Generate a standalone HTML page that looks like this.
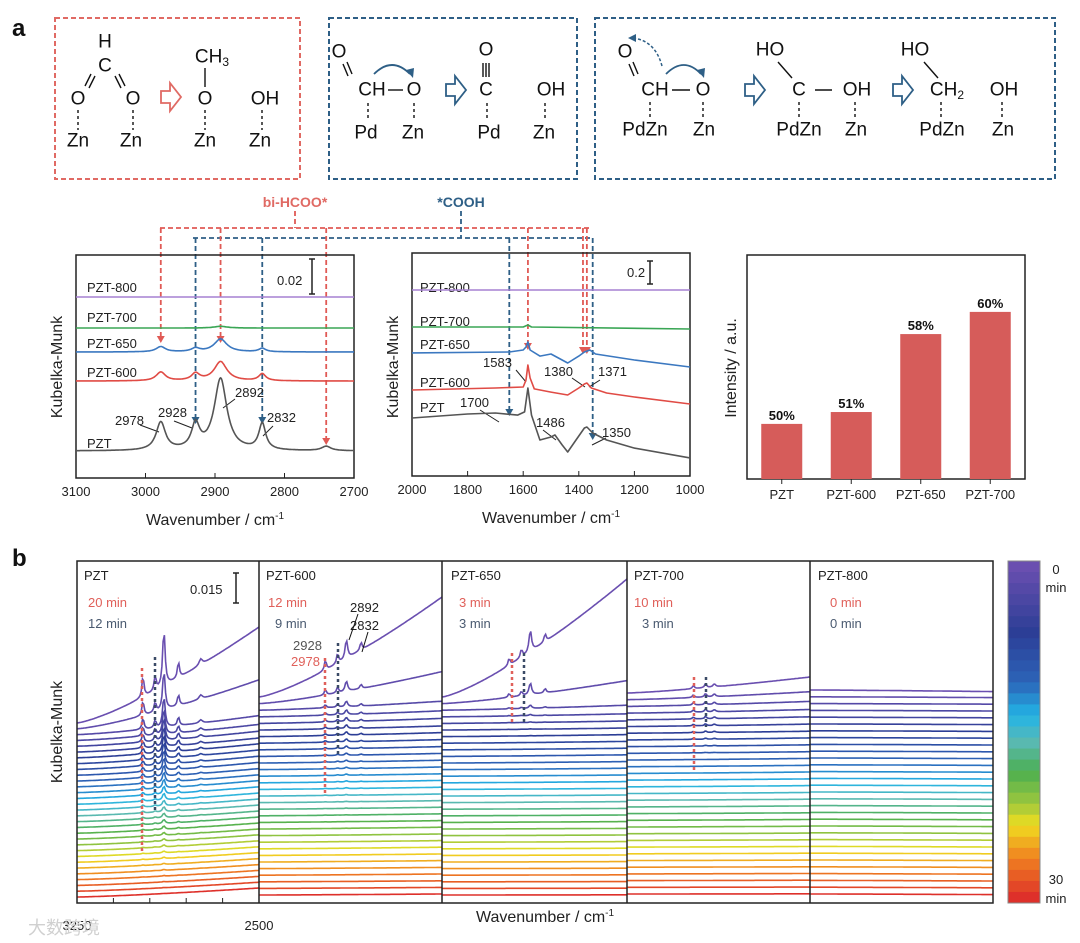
<!DOCTYPE html>
<html><head><meta charset="utf-8">
<style>
html,body{margin:0;padding:0;background:#fff;}
svg{display:block;font-family:"Liberation Sans",sans-serif;}
.chem{font-family:"Liberation Sans Narrow","Liberation Sans",sans-serif;font-size:19px;fill:#111;}
.lbl{font-size:13px;fill:#222;}
.tick{font-size:13px;fill:#222;}
.axt{font-size:16px;fill:#222;}
</style></head>
<body>
<svg id="fig" width="1080" height="943" viewBox="0 0 1080 943" xmlns="http://www.w3.org/2000/svg">
<text x="12" y="36" font-size="24" font-weight="bold" fill="#111">a</text>
<text x="12" y="566" font-size="24" font-weight="bold" fill="#111">b</text>

<g>
<rect x="55" y="18" width="245" height="161" fill="none" stroke="#e06a64" stroke-width="2" stroke-dasharray="5,3"/>
<g class="chem" text-anchor="middle" dominant-baseline="central">
<text x="105" y="42">H</text><text x="105" y="66">C</text>
<text x="78" y="99">O</text><text x="133" y="99">O</text>
<text x="78" y="141">Zn</text><text x="131" y="141">Zn</text>
<text x="212" y="57">CH<tspan font-size="12" dy="5">3</tspan></text>
<text x="205" y="99">O</text><text x="265" y="99">OH</text>
<text x="205" y="141">Zn</text><text x="260" y="141">Zn</text>
</g>
<g stroke="#111" stroke-width="1.4" fill="none">
<line x1="91" y1="74" x2="85" y2="86"/><line x1="95" y1="76" x2="89" y2="88"/>
<line x1="119" y1="74" x2="125" y2="86"/><line x1="115" y1="76" x2="121" y2="88"/>
<line x1="205" y1="68" x2="205" y2="87"/>
<g stroke-dasharray="3,3"><line x1="78" y1="110" x2="78" y2="130"/><line x1="133" y1="110" x2="133" y2="130"/><line x1="205" y1="110" x2="205" y2="130"/><line x1="262" y1="110" x2="262" y2="130"/></g>
</g>
<path d="M161,91 h9 v-8 l11,14 l-11,14 v-8 h-9 z" fill="#fff" stroke="#e06a64" stroke-width="1.8"/>
</g>

<g>
<rect x="329" y="18" width="248" height="161" fill="none" stroke="#2e5f86" stroke-width="2" stroke-dasharray="5,3"/>
<g class="chem" text-anchor="middle" dominant-baseline="central">
<text x="339" y="52">O</text><text x="372" y="90">CH</text><text x="414" y="90">O</text>
<text x="366" y="133">Pd</text><text x="413" y="133">Zn</text>
<text x="486" y="50">O</text><text x="486" y="90">C</text><text x="489" y="133">Pd</text>
<text x="551" y="90">OH</text><text x="544" y="133">Zn</text>
</g>
<g stroke="#111" stroke-width="1.4" fill="none">
<line x1="343" y1="64" x2="348" y2="76"/><line x1="347" y1="62" x2="352" y2="74"/>
<line x1="388" y1="90" x2="403" y2="90"/>
<line x1="483" y1="63" x2="483" y2="77"/><line x1="486" y1="63" x2="486" y2="77"/><line x1="489" y1="63" x2="489" y2="77"/>
<g stroke-dasharray="3,3"><line x1="368" y1="103" x2="368" y2="121"/><line x1="414" y1="103" x2="414" y2="121"/><line x1="487" y1="103" x2="487" y2="121"/><line x1="545" y1="103" x2="545" y2="121"/></g>
</g>
<path d="M374,74 Q392,56 410,74" fill="none" stroke="#2e5f86" stroke-width="1.8"/>
<polygon points="406,70 413,78 414,68" fill="#2e5f86"/>
<path d="M446,84 h9 v-8 l11,14 l-11,14 v-8 h-9 z" fill="#fff" stroke="#2e5f86" stroke-width="1.8"/>
</g>

<g>
<rect x="595" y="18" width="460" height="161" fill="none" stroke="#2e5f86" stroke-width="2" stroke-dasharray="5,3"/>
<g class="chem" text-anchor="middle" dominant-baseline="central">
<text x="625" y="52">O</text><text x="655" y="90">CH</text><text x="703" y="90">O</text>
<text x="645" y="130">PdZn</text><text x="704" y="130">Zn</text>
<text x="770" y="50">HO</text><text x="799" y="90">C</text><text x="857" y="90">OH</text>
<text x="799" y="130">PdZn</text><text x="856" y="130">Zn</text>
<text x="915" y="50">HO</text><text x="947" y="90">CH<tspan font-size="12" dy="5">2</tspan></text><text x="1004" y="90">OH</text>
<text x="942" y="130">PdZn</text><text x="1003" y="130">Zn</text>
</g>
<g stroke="#111" stroke-width="1.4" fill="none">
<line x1="629" y1="64" x2="634" y2="76"/><line x1="633" y1="62" x2="638" y2="74"/>
<line x1="672" y1="90" x2="690" y2="90"/>
<line x1="778" y1="62" x2="792" y2="78"/><line x1="815" y1="90" x2="832" y2="90"/>
<line x1="924" y1="62" x2="938" y2="78"/>
<g stroke-dasharray="3,3"><line x1="650" y1="102" x2="650" y2="118"/><line x1="703" y1="102" x2="703" y2="118"/><line x1="799" y1="102" x2="799" y2="118"/><line x1="855" y1="102" x2="855" y2="118"/><line x1="941" y1="102" x2="941" y2="118"/><line x1="1002" y1="102" x2="1002" y2="118"/></g>
</g>
<path d="M666,74 Q684,56 701,74" fill="none" stroke="#2e5f86" stroke-width="1.8"/>
<polygon points="697,70 704,78 705,68" fill="#2e5f86"/>
<path d="M662,66 Q655,40 632,38" fill="none" stroke="#2e5f86" stroke-width="1.5" stroke-dasharray="3,2"/>
<polygon points="636,34 628,38 636,42" fill="#2e5f86"/>
<path d="M745,84 h9 v-8 l11,14 l-11,14 v-8 h-9 z" fill="#fff" stroke="#2e5f86" stroke-width="1.8"/>
<path d="M893,84 h9 v-8 l11,14 l-11,14 v-8 h-9 z" fill="#fff" stroke="#2e5f86" stroke-width="1.8"/>
</g>

<text x="295" y="207" text-anchor="middle" font-size="14" font-weight="bold" fill="#e06a64">bi-HCOO*</text>
<text x="461" y="207" text-anchor="middle" font-size="14" font-weight="bold" fill="#2e5f86">*COOH</text>
<g id="connectors"></g>

<g id="c1">
<rect x="76" y="255" width="278" height="223" fill="none" stroke="#222" stroke-width="1.5"/>
<text class="axt" transform="translate(62,367) rotate(-90)" text-anchor="middle">Kubelka-Munk</text>
<text class="axt" x="215" y="525" text-anchor="middle">Wavenumber / cm<tspan font-size="10" dy="-6">-1</tspan></text>
<text class="lbl" x="277" y="285">0.02</text>
<g stroke="#222" stroke-width="1.5"><line x1="312" y1="259" x2="312" y2="294"/><line x1="309" y1="259" x2="315" y2="259"/><line x1="309" y1="294" x2="315" y2="294"/></g>
<g class="lbl">
<text x="87" y="292">PZT-800</text><text x="87" y="322">PZT-700</text><text x="87" y="348">PZT-650</text><text x="87" y="377">PZT-600</text><text x="87" y="448">PZT</text>
<text x="115" y="425">2978</text><text x="158" y="417">2928</text><text x="235" y="397">2892</text><text x="267" y="422">2832</text>
</g>
<g stroke="#222" stroke-width="1"><line x1="140" y1="425" x2="159" y2="432"/><line x1="174" y1="421" x2="192" y2="428"/><line x1="235" y1="399" x2="223" y2="408"/><line x1="273" y1="426" x2="263" y2="436"/></g>
<g id="c1ticks"></g><g id="c1lines"></g>
</g>

<g id="c2">
<rect x="412" y="253" width="278" height="223" fill="none" stroke="#222" stroke-width="1.5"/>
<text class="axt" transform="translate(398,367) rotate(-90)" text-anchor="middle">Kubelka-Munk</text>
<text class="axt" x="551" y="523" text-anchor="middle">Wavenumber / cm<tspan font-size="10" dy="-6">-1</tspan></text>
<text class="lbl" x="627" y="277">0.2</text>
<g stroke="#222" stroke-width="1.5"><line x1="650" y1="261" x2="650" y2="284"/><line x1="647" y1="261" x2="653" y2="261"/><line x1="647" y1="284" x2="653" y2="284"/></g>
<g class="lbl">
<text x="420" y="292">PZT-800</text><text x="420" y="326">PZT-700</text><text x="420" y="349">PZT-650</text><text x="420" y="387">PZT-600</text><text x="420" y="412">PZT</text>
<text x="483" y="367">1583</text><text x="544" y="376">1380</text><text x="598" y="376">1371</text><text x="460" y="407">1700</text><text x="536" y="427">1486</text><text x="602" y="437">1350</text>
</g>
<g stroke="#222" stroke-width="1"><line x1="516" y1="370" x2="526" y2="382"/><line x1="572" y1="378" x2="585" y2="387"/><line x1="600" y1="380" x2="589" y2="387"/><line x1="480" y1="410" x2="499" y2="422"/><line x1="543" y1="430" x2="556" y2="440"/><line x1="592" y1="445" x2="606" y2="438"/></g>
<g id="c2ticks"></g><g id="c2lines"></g>
</g>

<g id="c3">
<rect x="747" y="255" width="278" height="224" fill="none" stroke="#222" stroke-width="1.5"/>
<text class="axt" transform="translate(736,368) rotate(-90)" text-anchor="middle">Intensity / a.u.</text>
<g id="bars"></g>
</g>

<g id="pb">
<g id="btraces"></g>
<rect x="77" y="561" width="916" height="342" fill="none" stroke="#222" stroke-width="1.5"/>
<g id="bdividers"></g>
<text class="axt" transform="translate(62,732) rotate(-90)" text-anchor="middle">Kubelka-Munk</text>
<text class="axt" x="545" y="922" text-anchor="middle" font-size="17">Wavenumber / cm<tspan font-size="10" dy="-6">-1</tspan></text>
<text class="lbl" x="190" y="594">0.015</text>
<g stroke="#222" stroke-width="1.5"><line x1="236" y1="573" x2="236" y2="603"/><line x1="233" y1="573" x2="239" y2="573"/><line x1="233" y1="603" x2="239" y2="603"/></g>
<g class="lbl">
<text x="84" y="580">PZT</text><text x="88" y="607" fill="#e0605a">20 min</text><text x="88" y="628" fill="#4a5a70">12 min</text>
<text x="266" y="580">PZT-600</text><text x="268" y="607" fill="#e0605a">12 min</text><text x="275" y="628" fill="#4a5a70">9 min</text>
<text x="451" y="580">PZT-650</text><text x="459" y="607" fill="#e0605a">3 min</text><text x="459" y="628" fill="#4a5a70">3 min</text>
<text x="634" y="580">PZT-700</text><text x="634" y="607" fill="#e0605a">10 min</text><text x="642" y="628" fill="#4a5a70">3 min</text>
<text x="818" y="580">PZT-800</text><text x="830" y="607" fill="#e0605a">0 min</text><text x="830" y="628" fill="#4a5a70">0 min</text>
<text x="350" y="612">2892</text><text x="350" y="630">2832</text><text x="293" y="650" fill="#555">2928</text><text x="291" y="666" fill="#e0605a">2978</text>
</g>
<g stroke="#111" stroke-width="1"><line x1="358" y1="614" x2="349" y2="640"/><line x1="368" y1="632" x2="362" y2="652"/></g>
<g stroke-width="2.5" stroke-dasharray="3,3">
<line x1="142" y1="668" x2="142" y2="852" stroke="#e0605a"/><line x1="155" y1="657" x2="155" y2="810" stroke="#3a4a66"/>
<line x1="325" y1="658" x2="325" y2="793" stroke="#e0605a"/><line x1="338" y1="643" x2="338" y2="755" stroke="#3a4a66"/>
<line x1="512" y1="653" x2="512" y2="722" stroke="#e0605a"/><line x1="524" y1="653" x2="524" y2="722" stroke="#3a4a66"/>
<line x1="694" y1="677" x2="694" y2="773" stroke="#e0605a"/><line x1="706" y1="677" x2="706" y2="727" stroke="#3a4a66"/>
</g>
<text class="tick" x="77" y="930" text-anchor="middle">3250</text>
<text class="tick" x="259" y="930" text-anchor="middle">2500</text>
<g id="colorbar"></g>
<g class="lbl" font-size="14"><text x="1056" y="574" text-anchor="middle">0</text><text x="1056" y="592" text-anchor="middle">min</text><text x="1056" y="884" text-anchor="middle">30</text><text x="1056" y="903" text-anchor="middle">min</text></g>
<text x="28" y="934" font-size="18" fill="#d0d0d0" font-family="'Noto Sans CJK SC',sans-serif">大数跨境</text>
</g>
</svg>
<script>
const c1Names = ['PZT-800','PZT-700','PZT-650','PZT-600','PZT'];
const c1Base = [0.1034,0.0857,0.072,0.0554,0.0154];
const c1PeakPos = [2978,2928,2892,2832,2740];
const c1PeakHw = [8,7,11,6,8];
const c1Amp800 = [0,0,0,0,0];
const c1Amp700 = [0,0,0.001,0,0];
const c1Amp650 = [0.003,0.002,0.0074,0.002,0];
const c1Amp600 = [0.005,0.004,0.011,0.004,0];
const c1AmpPZT = [0.016,0.014,0.041,0.015,0.0025];
const c1Ticks = [3100,3000,2900,2800,2700];
const c2Ticks = [2000,1800,1600,1400,1200,1000];
const c2WnPZT = [2000,1800,1700,1620,1595,1583,1570,1540,1500,1486,1460,1440,1410,1380,1371,1350,1300,1200,1000];
const c2ValPZT = [0.504,0.539,0.548,0.53,0.557,0.765,0.53,0.313,0.339,0.357,0.27,0.209,0.313,0.417,0.426,0.374,0.313,0.243,0.157];
const c2Wn600 = [2000,1700,1600,1590,1583,1575,1560,1500,1440,1400,1380,1371,1355,1300,1200,1000];
const c2Val600 = [0.748,0.765,0.774,0.835,0.965,0.852,0.757,0.73,0.704,0.765,0.8,0.809,0.765,0.722,0.687,0.626];
const c2Wn650 = [2000,1650,1600,1590,1583,1575,1540,1500,1440,1400,1380,1360,1340,1200,1000];
const c2Val650 = [1.07,1.078,1.096,1.122,1.165,1.096,1.043,1.061,0.983,1.043,1.078,1.096,1.061,1.009,0.948];
const c2Wn700 = [2000,1600,1583,1570,1000];
const c2Val700 = [1.296,1.296,1.313,1.296,1.278];
const c2Wn800 = [2000,1000];
const c2Val800 = [1.617,1.617];
const barCats = ['PZT','PZT-600','PZT-650','PZT-700'];
const barVals = [0.246,0.299,0.647,0.746];
const barLabels = ['50%','51%','58%','60%'];
const bPanels = ['PZT','PZT-600','PZT-650','PZT-700','PZT-800'];
const bTimes = [0,1,2,3,4,5,6,7,8,9,10,11,12,13,14,15,16,17,18,19,20,21,22,23,24,25,26,27,28,29,30];
const bPeakPos = [2978,2928,2892,2832,2740];
const bPeakHw = [5,5,6,5,8];
const bAmpPZT = [0.0105,0.007,0.028,0.008,0.003];
const bAmp600 = [0.005,0.005,0.0095,0.004,0];
const bAmp650 = [0.0035,0.004,0.011,0.004,0];
const bAmp700 = [0.0015,0.002,0.0015,0,0];
const bAmp800 = [0,0,0,0,0];
const bCovPZT = [1,0.7,0.55,0.45,0.4,0.35,0.31,0.28,0.25,0.22,0.2,0.18,0.16,0.14,0.12,0.1,0.09,0.08,0.07,0.06,0.05,0.04,0.035,0.03,0.025,0.02,0.015,0.01,0.008,0.005,0.003];
const bCov600 = [1,0.55,0.3,0.25,0.22,0.2,0.18,0.16,0.14,0.12,0.1,0.08,0.07,0.06,0.05,0.04,0.03,0.02,0.015,0.01,0.005,0,0,0,0,0,0,0,0,0,0];
const bCov650 = [1,0.55,0.15,0.06,0.03,0.02,0.01,0,0,0,0,0,0,0,0,0,0,0,0,0,0,0,0,0,0,0,0,0,0,0,0];
const bCov700 = [1,0.9,0.8,0.7,0.6,0.5,0.4,0.3,0.2,0.1,0,0,0,0,0,0,0,0,0,0,0,0,0,0,0,0,0,0,0,0,0];
const bCov800 = [0,0,0,0,0,0,0,0,0,0,0,0,0,0,0,0,0,0,0,0,0,0,0,0,0,0,0,0,0,0,0];
const bTiltPZT = [0.048,0.0245,0.0095,0.008,0.0075,0.007,0.007,0.0068,0.0066,0.0064,0.0062,0.006,0.006,0.0058,0.0056,0.0055,0.0054,0.0053,0.0052,0.0051,0.005,0.005,0.0049,0.0048,0.0048,0.0047,0.0046,0.0046,0.0045,0.0045,0.0045];
const bTilt600 = [0.05,0.016,0.0045,0.003,0.0025,0.002,0.002,0.0018,0.0016,0.0015,0.0014,0.0013,0.0012,0.0012,0.0011,0.001,0.001,0.001,0.001,0.0009,0.0009,0.0008,0.0008,0.0008,0.0007,0.0007,0.0006,0.0006,0.0005,0.0005,0.0005];
const bTilt650 = [0.059,0.0115,0.0025,0.0015,0.0012,0.001,0.001,0.0009,0.0008,0.0008,0.0007,0.0007,0.0006,0.0006,0.0005,0.0005,0.0005,0.0004,0.0004,0.0004,0.0003,0.0003,0.0003,0.0003,0.0002,0.0002,0.0002,0.0002,0.0001,0.0001,0.0001];
const bTilt700 = [0.008,0.004,0.0025,0.0018,0.0015,0.0012,0.001,0.001,0.0009,0.0008,0.0008,0.0007,0.0007,0.0006,0.0006,0.0005,0.0005,0.0005,0.0004,0.0004,0.0004,0.0003,0.0003,0.0003,0.0003,0.0002,0.0002,0.0002,0.0002,0.0001,0.0001];
const bTilt800 = [-0.0008,-0.0004,-0.0003,-0.0003,-0.0003,-0.0003,-0.0003,-0.0003,-0.0003,-0.0003,-0.0003,-0.0003,-0.0003,-0.0003,-0.0003,-0.0003,-0.0003,-0.0003,-0.0003,-0.0003,-0.0003,-0.0003,-0.0003,-0.0003,-0.0003,-0.0003,-0.0003,-0.0003,-0.0003,-0.0003,-0.0003];

const NS = 'http://www.w3.org/2000/svg';
function el(tag, parent){ const e = document.createElementNS(NS, tag); parent.appendChild(e); return e; }
function lor(wn, pos, hw, amp){ let s=0; for(let k=0;k<pos.length;k++){ const d=(wn-pos[k])/hw[k]; s+=amp[k]/(1+d*d);} return s; }

const c1x = wn => 76 + (3100 - wn) / 400 * 278;
const c1y = v => 478 - v * 1750;
const c1Colors = ['#a680d2','#3aa655','#3b78c0','#e04b45','#555555'];
const c1Amps = [c1Amp800,c1Amp700,c1Amp650,c1Amp600,c1AmpPZT];
const c1t = document.getElementById('c1ticks');
c1Ticks.forEach(t => {
  const ln = el('line', c1t);
  ln.setAttribute('x1', c1x(t)); ln.setAttribute('x2', c1x(t)); ln.setAttribute('y1', 478); ln.setAttribute('y2', 473);
  ln.setAttribute('stroke', '#222');
  
  
  const tx = el('text', c1t);
  tx.setAttribute('x', c1x(t)); tx.setAttribute('y', 496); tx.setAttribute('text-anchor', 'middle'); tx.setAttribute('class', 'tick');
  tx.textContent = t;
  
  
});
const c1l = document.getElementById('c1lines');
c1Names.forEach((n, i) => {
  let d = '';
  for (let wn = 3100; wn >= 2700; wn -= 1) {
    const v = c1Base[i] + lor(wn, c1PeakPos, c1PeakHw, c1Amps[i]);
    d += (wn === 3100 ? 'M' : 'L') + c1x(wn).toFixed(1) + ',' + c1y(v).toFixed(1);
  }
  const p = el('path', c1l);
  p.setAttribute('d', d); p.setAttribute('fill', 'none'); p.setAttribute('stroke', c1Colors[i]); p.setAttribute('stroke-width', '1.6');
  
  
});

const c2x = wn => 412 + (2000 - wn) / 1000 * 278;
const c2y = v => 476 - v * 115;
const c2t = document.getElementById('c2ticks');
c2Ticks.forEach(t => {
  const ln = el('line', c2t);
  ln.setAttribute('x1', c2x(t)); ln.setAttribute('x2', c2x(t)); ln.setAttribute('y1', 476); ln.setAttribute('y2', 471);
  ln.setAttribute('stroke', '#222');
  
  
  const tx = el('text', c2t);
  tx.setAttribute('x', c2x(t)); tx.setAttribute('y', 494); tx.setAttribute('text-anchor', 'middle'); tx.setAttribute('class', 'tick');
  tx.textContent = t;
  
  
});
const c2Series = [[c2Wn800,c2Val800],[c2Wn700,c2Val700],[c2Wn650,c2Val650],[c2Wn600,c2Val600],[c2WnPZT,c2ValPZT]];
const c2l = document.getElementById('c2lines');
c2Series.forEach((s, i) => {
  const d = s[0].map((wn, k) => (k ? 'L' : 'M') + c2x(wn).toFixed(1) + ',' + c2y(s[1][k]).toFixed(1)).join('');
  const p = el('path', c2l);
  p.setAttribute('d', d); p.setAttribute('fill', 'none'); p.setAttribute('stroke', c1Colors[i]); p.setAttribute('stroke-width', '1.6'); p.setAttribute('stroke-linejoin', 'round');
  
  
});

const conn = document.getElementById('connectors');
function dline(x1,y1,x2,y2,c){ const l=el('line',conn); l.setAttribute('x1',x1);l.setAttribute('y1',y1);l.setAttribute('x2',x2);l.setAttribute('y2',y2);l.setAttribute('stroke',c);l.setAttribute('stroke-width','1.8');l.setAttribute('stroke-dasharray','5,3'); return l; }
function arrowDown(x,y,c){ const p=el('polygon',conn); p.setAttribute('points',(x-4)+','+(y-7)+' '+(x+4)+','+(y-7)+' '+x+','+y); p.setAttribute('fill',c); return p; }
const RED='#e05a55', BLUE='#2e5f86';
dline(295,211,295,228,RED); dline(160,228,590,228,RED);
dline(461,211,461,238,BLUE); dline(193,238,593,238,BLUE);
const redX = [[c1x(2978),343],[c1x(2892),343],[c1x(2740),445],[c2x(1583),350],[c2x(1385),354],[c2x(1371),354]];
const blueX = [[c1x(2928),424],[c1x(2832),424],[c2x(1650),416],[c2x(1350),440]];
redX.forEach(a => { const l = dline(a[0],228,a[0],a[1]-6,RED);   arrowDown(a[0],a[1],RED); });
blueX.forEach(a => { const l = dline(a[0],238,a[0],a[1]-6,BLUE);   arrowDown(a[0],a[1],BLUE); });

const bandW = 278 / barCats.length;
const barX = i => 747 + bandW * (i + 0.5);
const barY = v => 479 - v * 224;
const bg = document.getElementById('bars');
barCats.forEach((c, i) => {
  const r = el('rect', bg);
  r.setAttribute('x', barX(i) - 20.5); r.setAttribute('width', 41);
  r.setAttribute('y', barY(barVals[i])); r.setAttribute('height', 479 - barY(barVals[i]));
  r.setAttribute('fill', '#d65c5a');
  
  
  const t = el('text', bg);
  t.setAttribute('x', barX(i)); t.setAttribute('y', barY(barVals[i]) - 4); t.setAttribute('text-anchor', 'middle');
  t.setAttribute('font-size', '13'); t.setAttribute('font-weight', 'bold'); t.setAttribute('fill', '#111');
  t.textContent = barLabels[i];
  
  
  const ct = el('text', bg);
  ct.setAttribute('x', barX(i)); ct.setAttribute('y', 499); ct.setAttribute('text-anchor', 'middle'); ct.setAttribute('class', 'tick');
  ct.textContent = c;
  
  
  const tk = el('line', bg);
  tk.setAttribute('x1', barX(i)); tk.setAttribute('x2', barX(i)); tk.setAttribute('y1', 479); tk.setAttribute('y2', 484); tk.setAttribute('stroke', '#222');
  
  
});

const cStops = [[0,[106,79,176]],[0.2,[44,62,150]],[0.35,[44,100,184]],[0.45,[34,180,230]],[0.53,[90,185,180]],[0.62,[76,175,80]],[0.72,[160,200,60]],[0.78,[240,222,32]],[0.88,[240,130,32]],[1,[222,48,42]]];
function cmap(t){ for(let k=1;k<cStops.length;k++){ if(t<=cStops[k][0]){ const a=cStops[k-1],b=cStops[k]; const f=(t-a[0])/(b[0]-a[0]); const c=a[1].map((v,j)=>Math.round(v+(b[1][j]-v)*f)); return 'rgb('+c.join(',')+')'; } } return 'rgb(222,48,42)'; }

const bEdges = [77,259,442,627,810,993];
const bY0 = [723,697,697,693,690];
const bStep = [5.8,6.6,6.6,6.7,6.8];
const bAmps = [bAmpPZT,bAmp600,bAmp650,bAmp700,bAmp800];
const bCovs = [bCovPZT,bCov600,bCov650,bCov700,bCov800];
const bTilts = [bTiltPZT,bTilt600,bTilt650,bTilt700,bTilt800];
const S = 2000;
const bx = (p, wn) => bEdges[p] + (3250 - wn) / 750 * (bEdges[p+1] - bEdges[p]);
const bt = document.getElementById('btraces');
bPanels.forEach((name, p) => {
  for (let i = bTimes.length - 1; i >= 0; i--) {
    let d = '';
    for (let wn = 3250; wn >= 2500; wn -= 5) {
      const t = (3250 - wn) / 750;
      const v = bTilts[p][i] * Math.pow(t, 1.3) + bCovs[p][i] * lor(wn, bPeakPos, bPeakHw, bAmps[p]);
      const y = bY0[p] + i * bStep[p] - v * S;
      d += (wn === 3250 ? 'M' : 'L') + bx(p, wn).toFixed(1) + ',' + y.toFixed(1);
    }
    const path = el('path', bt);
    path.setAttribute('d', d); path.setAttribute('fill', 'none');
    path.setAttribute('stroke', cmap(bTimes[i] / 30)); path.setAttribute('stroke-width', '1.6');
    
    
  }
});
const bd = document.getElementById('bdividers');
bEdges.slice(1, 5).forEach(x => {
  const l = el('line', bd);
  l.setAttribute('x1', x); l.setAttribute('x2', x); l.setAttribute('y1', 561); l.setAttribute('y2', 903); l.setAttribute('stroke', '#222'); l.setAttribute('stroke-width', '1.5');
  
  
});
[3100,2950,2800,2650].forEach(w => {
  const l = el('line', bd);
  l.setAttribute('x1', bx(0, w)); l.setAttribute('x2', bx(0, w)); l.setAttribute('y1', 903); l.setAttribute('y2', 898); l.setAttribute('stroke', '#222');
  
  
});
const cb = document.getElementById('colorbar');
const nBands = bTimes.length;
bTimes.forEach((tm, k) => {
  const r = el('rect', cb);
  const h = 342 / nBands;
  r.setAttribute('x', 1008); r.setAttribute('width', 32); r.setAttribute('y', 561 + k * h); r.setAttribute('height', h + 0.5);
  r.setAttribute('fill', cmap(tm / 30));
  
  
});
const cbf = el('rect', cb);
cbf.setAttribute('x', 1008); cbf.setAttribute('y', 561); cbf.setAttribute('width', 32); cbf.setAttribute('height', 342); cbf.setAttribute('fill', 'none'); cbf.setAttribute('stroke', '#888');


</script>
</body></html>
